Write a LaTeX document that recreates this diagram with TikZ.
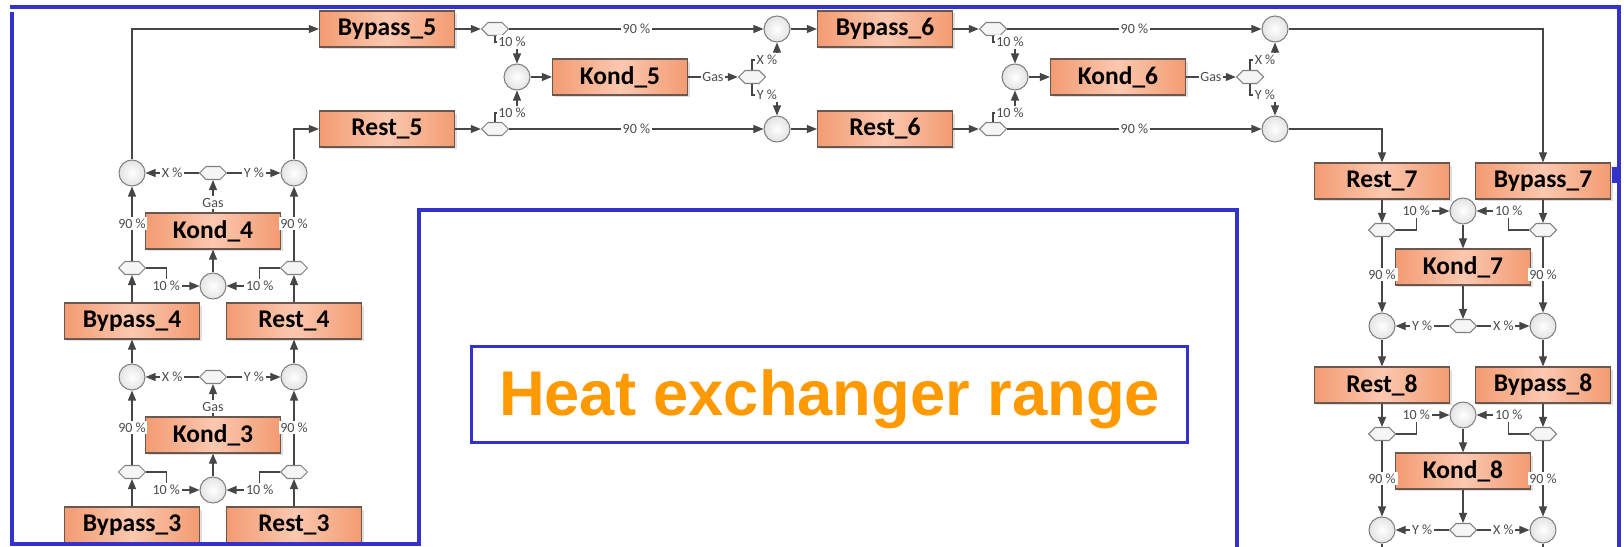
\documentclass[tikz,border=0pt]{standalone}
\usepackage{fontspec}
\setmainfont{Carlito}
\newfontfamily\headfont{Liberation Sans}
\usetikzlibrary{arrows.meta,shapes.symbols,shadows}
\definecolor{frameblue}{RGB}{51,51,204}
\definecolor{boxedge}{RGB}{243,155,113}
\definecolor{boxmid}{RGB}{251,200,176}
\definecolor{boxline}{RGB}{105,88,80}
\definecolor{flowgray}{RGB}{70,70,70}
\definecolor{headorange}{RGB}{255,153,0}
\tikzset{
  unit/.style={draw=boxline, line width=0.7pt, left color=boxedge, right color=boxedge,
    middle color=boxmid, minimum width=2.7cm, minimum height=0.72cm, inner sep=0pt,
    font=\fontsize{14.5}{14.5}\selectfont\bfseries,
    drop shadow={shadow xshift=0.05cm, shadow yshift=-0.05cm, opacity=0.25}},
  mix/.style={circle, draw=gray, line width=0.6pt, inner color=white, outer color=gray!22,
    minimum size=0.52cm, inner sep=0pt},
  split/.style={signal, signal to=east and west, draw=gray, line width=0.6pt, fill=gray!8,
    minimum width=0.54cm, minimum height=0.26cm, inner sep=0pt},
  flow/.style={draw=flowgray, line width=0.6pt, -{Triangle[length=0.2cm,width=0.16cm]}},
  pct/.style={fill=white, inner sep=1pt, text=black!70, font=\fontsize{8}{8}\selectfont},
  frame/.style={draw=frameblue, line width=0.08cm},
}
\begin{document}
\begin{tikzpicture}[x=0.02cm, y=-0.02cm]
  \useasboundingbox (0,0) rectangle (1624,547);
  \fill[white] (0,0) rectangle (1624,547);

  % left column, flowing upward
  \foreach \k/\y in {3/525, 4/321} {
    \node[unit] (bypass\k) at (132,\y) {Bypass\_\k};
    \node[unit] (rest\k) at (294,\y) {Rest\_\k};
    \node[split] (hb\k) at (132,\y-53) {};
    \node[split] (hr\k) at (294,\y-53) {};
    \node[mix] (cm\k) at (213,\y-35) {};
    \node[unit] (kond\k) at (213,\y-90) {Kond\_\k};
    \node[split] (hg\k) at (213,\y-148) {};
    \node[mix] (cb\k) at (132,\y-148) {};
    \node[mix] (cr\k) at (294,\y-148) {};
    \draw[flow] (bypass\k) -- (hb\k);
    \draw[flow] (rest\k) -- (hr\k);
    \draw[flow] (hb\k.east) -- ++(20,0) |- node[pct,pos=0.5]{10 \%} (cm\k);
    \draw[flow] (hr\k.west) -- ++(-20,0) |- node[pct,pos=0.5]{10 \%} (cm\k);
    \draw[flow] (cm\k) -- (kond\k);
    \draw[flow] (kond\k) -- node[pct,pos=0.3]{Gas} (hg\k);
    \draw[flow] (hb\k) -- node[pct]{90 \%} (cb\k);
    \draw[flow] (hr\k) -- node[pct]{90 \%} (cr\k);
    \draw[flow] (hg\k) -- node[pct]{X \%} (cb\k);
    \draw[flow] (hg\k) -- node[pct]{Y \%} (cr\k);
  }

  % top row, flowing right
  \foreach \k/\x in {5/387, 6/885} {
    \node[unit] (bypass\k) at (\x,29) {Bypass\_\k};
    \node[unit] (rest\k) at (\x,129) {Rest\_\k};
    \node[split] (hb\k) at (\x+108,29) {};
    \node[split] (hr\k) at (\x+108,129) {};
    \node[mix] (cm\k) at (\x+130,77) {};
    \node[unit] (kond\k) at (\x+233,77) {Kond\_\k};
    \node[split] (hg\k) at (\x+365,77) {};
    \node[mix] (cb\k) at (\x+390,29) {};
    \node[mix] (cr\k) at (\x+390,129) {};
    \draw[flow] (bypass\k) -- (hb\k);
    \draw[flow] (rest\k) -- (hr\k);
    \draw[flow] (hb\k.south) |- (cm\k.north |- 0,42) node[pct,xshift=-0.1cm]{10 \%} -- (cm\k);
    \draw[flow] (hr\k.north) |- (cm\k.south |- 0,113) node[pct,xshift=-0.1cm]{10 \%} -- (cm\k);
    \draw[flow] (cm\k) -- (kond\k);
    \draw[flow] (kond\k) -- node[pct]{Gas} (hg\k);
    \draw[flow] (hg\k.north) |- (cb\k.south |- 0,60) node[pct,xshift=-0.2cm]{X \%} -- (cb\k);
    \draw[flow] (hg\k.south) |- (cr\k.north |- 0,95) node[pct,xshift=-0.2cm]{Y \%} -- (cr\k);
    \draw[flow] (hb\k) -- node[pct]{90 \%} (cb\k);
    \draw[flow] (hr\k) -- node[pct]{90 \%} (cr\k);
  }

  % right column, flowing downward
  \foreach \k/\y in {7/181, 8/385} {
    \node[unit] (rest\k) at (1382,\y) {Rest\_\k};
    \node[unit] (bypass\k) at (1543,\y) {Bypass\_\k};
    \node[split] (hr\k) at (1382,\y+49) {};
    \node[split] (hb\k) at (1543,\y+49) {};
    \node[mix] (cm\k) at (1463,\y+30) {};
    \node[unit] (kond\k) at (1463,\y+86) {Kond\_\k};
    \node[split] (hg\k) at (1463,\y+145) {};
    \node[mix] (cr\k) at (1382,\y+145) {};
    \node[mix] (cb\k) at (1543,\y+145) {};
    \draw[flow] (rest\k) -- (hr\k);
    \draw[flow] (bypass\k) -- (hb\k);
    \draw[flow] (hr\k.east) -- ++(20,0) |- node[pct,pos=0.5]{10 \%} (cm\k);
    \draw[flow] (hb\k.west) -- ++(-20,0) |- node[pct,pos=0.5]{10 \%} (cm\k);
    \draw[flow] (cm\k) -- (kond\k);
    \draw[flow] (kond\k) -- (hg\k);
    \draw[flow] (hr\k) -- node[pct]{90 \%} (cr\k);
    \draw[flow] (hb\k) -- node[pct]{90 \%} (cb\k);
    \draw[flow] (hg\k) -- node[pct]{Y \%} (cr\k);
    \draw[flow] (hg\k) -- node[pct]{X \%} (cb\k);
  }

  % links between the stages
  \draw[flow] (cb3) -- (bypass4);
  \draw[flow] (cr3) -- (rest4);
  \draw[flow] (cb4) |- (bypass5);
  \draw[flow] (cr4) |- (rest5);
  \draw[flow] (cb5) -- (bypass6);
  \draw[flow] (cr5) -- (rest6);
  \draw[flow] (cb6) -| (bypass7);
  \draw[flow] (cr6) -| (rest7);
  \draw[flow] (cr7) -- (rest8);
  \draw[flow] (cb7) -- (bypass8);
  \coordinate (outr) at (1382,565);
  \coordinate (outb) at (1543,565);
  \draw[flow] (cr8) -- (outr);
  \draw[flow] (cb8) -- (outb);

  % blue outline of the range
  \draw[frame] (10,7) -- (1619,7) -- (1619,547);
  \fill[frameblue] (1612,167) rectangle (1617,183);
  \draw[frame] (12,12) -- (12,544) -- (419,544) -- (419,210) -- (1237,210) -- (1237,547);
  \node[draw=frameblue, line width=0.06cm, minimum width=14.34cm, minimum height=1.94cm,
    text height=0.91cm, text depth=0.07cm,
    text=headorange, font=\headfont\bfseries\fontsize{36}{36}\selectfont] (range)
    at (829.5,394.5) {Heat exchanger range};
\end{tikzpicture}
\end{document}
